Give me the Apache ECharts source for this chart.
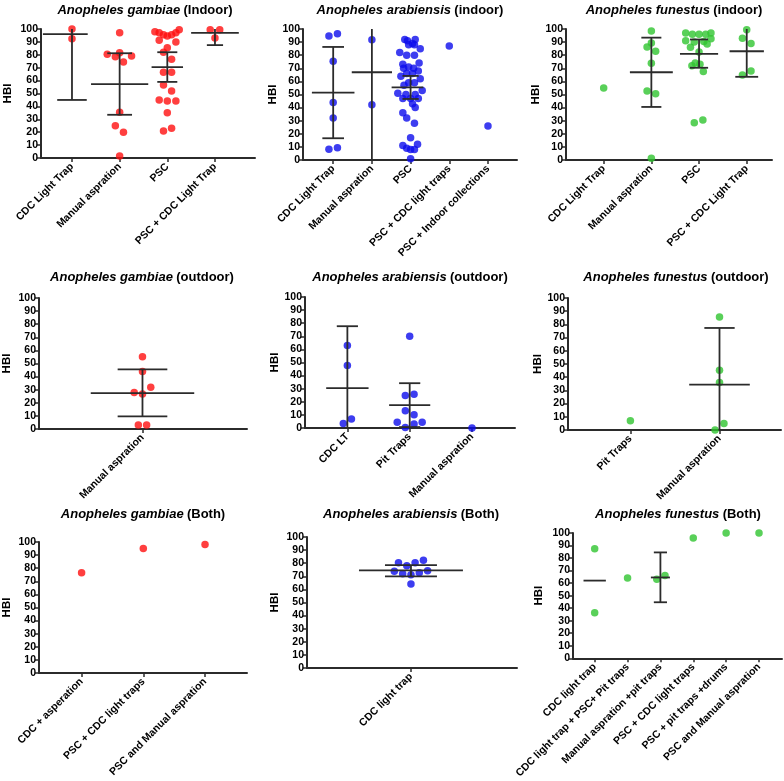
<!DOCTYPE html>
<html><head><meta charset="utf-8">
<script src="https://cdn.jsdelivr.net/npm/echarts@6/dist/echarts.min.js"></script>
<style>html,body{margin:0;padding:0;background:#fff}#c{width:784px;height:781px}</style>
</head><body><div id="c"></div>
<script>
// ---------- DATA ----------
// Points: [groupIndex, jitterOffset, HBI]; error bars: [groupIndex, mean, lower95CI, upper95CI]
const titles = [
  ['Anopheles gambiae', '(Indoor)'], ['Anopheles arabiensis', '(indoor)'], ['Anopheles funestus', '(indoor)'],
  ['Anopheles gambiae', '(outdoor)'], ['Anopheles arabiensis', '(outdoor)'], ['Anopheles funestus', '(outdoor)'],
  ['Anopheles gambiae', '(Both)'], ['Anopheles arabiensis', '(Both)'], ['Anopheles funestus', '(Both)']
];
const yTicks = [0,10,20,30,40,50,60,70,80,90,100];

const cats1 = ['CDC Light Trap','Manual aspration','PSC','PSC + CDC Light Trap'];
const pts1 = [
  [0,0,100],[0,0,92.5],
  [1,0,97],[1,-0.26,80.5],[1,0,81.5],[1,0.25,79],[1,-0.09,78.5],[1,0.08,74.5],[1,0,35.5],[1,-0.09,25],[1,0.08,20],[1,0,1.5],
  [2,-0.26,97.8],[2,-0.17,97],[2,-0.08,95.5],[2,0,94.6],[2,0.09,95.5],[2,0.18,97],[2,0.25,99.5],[2,-0.17,91.3],[2,0.18,90],
  [2,0,85.5],[2,-0.08,82],[2,0.09,76.5],[2,-0.08,66.5],[2,0.09,66.5],[2,-0.08,56.5],[2,0.09,52],[2,-0.17,45],[2,0,44.2],
  [2,0.18,44.2],[2,0,35],[2,-0.08,21],[2,0.09,23],
  [3,-0.1,99.5],[3,0.1,99.5],[3,0,93]
];
const eb1 = [[0,96,45,147],[1,57.3,33.5,81.2],[2,70.5,59,82],[3,97,87.5,107]];

const cats2 = ['CDC Light Trap','Manual aspration','PSC','PSC + CDC light traps','PSC + Indoor collections'];
const pts2 = [
  [0,-0.11,94.6],[0,0.11,96.4],[0,0,75.3],[0,0,43.9],[0,0,32.1],[0,-0.11,8.2],[0,0.11,9.4],
  [1,0,91.8],[1,0,42.1],
  [2,-0.15,92],[2,0.12,92],[2,-0.08,91],[2,0.05,89],[2,-0.05,88],[2,0.1,88],[2,0.25,85],[2,-0.28,82],[2,-0.1,80],[2,0.1,80],
  [2,0.22,74],[2,-0.2,73],[2,-0.05,71],[2,-0.18,70],[2,0.08,70],[2,0.2,68],[2,-0.1,66],[2,0.05,66],[2,-0.25,64],[2,0.25,62],
  [2,-0.05,59],[2,0.1,59],[2,-0.17,57],[2,0.3,53],[2,-0.33,51],[2,-0.12,50],[2,0.12,50],[2,-0.2,47],[2,0,47],[2,0.2,47],
  [2,0.05,43],[2,0.12,40],[2,-0.2,36],[2,-0.1,32],[2,0.1,28],[2,0,17],[2,0.18,12],[2,-0.2,11],[2,-0.1,9],[2,0,8],[2,0.1,8],[2,0,1],
  [3,0,87],
  [4,0,26]
];
const eb2 = [[0,51.5,16.6,86.3],[1,67,-250,384],[2,55.5,46.6,64.2]];

const cats3 = ['CDC Light Trap','Manual aspration','PSC','PSC + CDC Light Trap'];
const pts3 = [
  [0,0,55],
  [1,0,98.5],[1,0,89.3],[1,-0.09,86.2],[1,0.09,83],[1,0,73.8],[1,-0.09,52.6],[1,0.09,50.5],[1,0,1.3],
  [2,-0.28,97],[2,-0.14,96],[2,0,96],[2,0.14,96],[2,0.25,97],[2,-0.28,91],[2,-0.1,90],[2,0.1,90.5],[2,0.25,92.5],
  [2,0.17,88.5],[2,-0.18,86],[2,0,82.5],[2,-0.08,74],[2,0.02,73],[2,-0.15,72],[2,0.09,67.5],[2,-0.1,28.5],[2,0.08,30.5],
  [3,0,99.5],[3,-0.09,93],[3,0.09,89],[3,-0.09,64.8],[3,0.09,67.9]
];
const eb3 = [[1,67,40.5,93.4],[2,81,70.4,92],[3,83,63.5,102.5]];

const cats4 = ['Manual aspration'];
const pts4 = [[0,0,55.2],[0,0,43.8],[0,-0.08,27.8],[0,0,26.8],[0,0.08,31.9],[0,-0.04,3],[0,0.04,3]];
const eb4 = [[0,27.4,9.6,45.5]];

const cats5 = ['CDC LT','Pit Traps','Manual aspration'];
const pts5 = [
  [0,0,63],[0,0,47.8],[0,-0.065,3.5],[0,0.065,6.8],
  [1,0,70],[1,-0.07,24.8],[1,0.07,25.8],[1,-0.07,13.2],[1,0.07,10.1],[1,-0.2,4.3],[1,0.2,4.3],[1,0.07,3],[1,-0.07,0.3],
  [2,0,0]
];
const eb5 = [[0,30.5,-17,77.7],[1,17.4,0.7,34.2]];

const cats6 = ['Pit Traps','Manual aspration'];
const pts6 = [[0,0,7],[1,0,85.6],[1,0,45.2],[1,0,35.9],[1,0.05,5],[1,-0.05,0]];
const eb6 = [[1,34.3,-8.7,77.3]];

const cats7 = ['CDC + asperation','PSC + CDC light traps','PSC and Manual aspration'];
const pts7 = [[0,0,76.5],[1,0,95],[2,0,98]];
const eb7 = [];

const cats8 = ['CDC light trap'];
const pts8 = [[0,-0.12,80.3],[0,-0.04,78],[0,0.04,80.3],[0,0.12,82.3],[0,-0.16,73.9],[0,-0.08,71.9],[0,0,71.1],[0,0.08,72.7],[0,0.16,74.2],[0,0,64.1]];
const eb8 = [[0,74.5,70,78.5]];

const cats9 = ['CDC light trap','CDC light trap + PSC+ Pit traps','Manual aspration +pit traps','PSC + CDC light traps','PSC + pit traps +drums','PSC and Manual aspration'];
const pts9 = [[0,0,87.5],[0,0,36.3],[1,0,64],[2,-0.11,63],[2,0.14,66],[3,0,96],[4,0,100],[5,0,100]];
const eb9 = [[0,62,62,62],[2,64.5,44.7,84.5]];

// ---------- LAYOUT / STYLE ----------
const RED = '#ff0f0f', BLUE = '#0c0cec', GREEN = '#2fc42f';
const layout = [
  {left:41, top:29, width:214, height:129, xmin:-0.65, xmax:3.84, tx:145, ty:10, color:RED, cats:cats1, pts:pts1, eb:eb1, mw:[0.47,0.6,0.33,0.5], cw:[0.31,0.26,0.21,0.17], mc:[-0.14,0,0,0], nameGap:27},
  {left:303, top:29, width:214, height:131, xmin:-0.78, xmax:4.75, tx:410, ty:10, color:BLUE, cats:cats2, pts:pts2, eb:eb2, mw:[0.55,0.52,0.41], cw:[0.28,0.2,0.21], mc:[0,0,-0.08], nameGap:23},
  {left:566, top:29, width:206, height:131, xmin:-0.79, xmax:3.53, tx:674, ty:10, color:GREEN, cats:cats3, pts:pts3, eb:eb3, mw:[0.45,0.4,0.36], cw:[0.21,0.19,0.24], mc:[0,0,0], nameGap:21},
  {left:39, top:298, width:208, height:131, xmin:-1, xmax:1.01, tx:142, ty:277, color:RED, cats:cats4, pts:pts4, eb:eb4, mw:[0.5], cw:[0.24], mc:[0], nameGap:26},
  {left:305, top:297, width:210, height:131, xmin:-0.68, xmax:2.69, tx:410, ty:277, color:BLUE, cats:cats5, pts:pts5, eb:eb5, mw:[0.34,0.33], cw:[0.17,0.17], mc:[0,0], nameGap:24},
  {left:568, top:298, width:213, height:132, xmin:-0.70, xmax:1.69, tx:676, ty:277, color:GREEN, cats:cats6, pts:pts6, eb:eb6, mw:[0.34], cw:[0.17], mc:[0], nameGap:23},
  {left:37, top:542, width:210, height:131, xmin:-0.69, xmax:2.68, tx:143, ty:514, color:RED, cats:cats7, pts:pts7, eb:eb7, mw:[], cw:[], mc:[], nameGap:26},
  {left:307, top:537, width:210, height:131, xmin:-1, xmax:1.02, tx:411, ty:514, color:BLUE, cats:cats8, pts:pts8, eb:eb8, mw:[0.5], cw:[0.25], mc:[0], nameGap:26},
  {left:573, top:533, width:209, height:131, xmin:-0.66, xmax:5.7, tx:678, ty:514, color:GREEN, cats:cats9, pts:pts9, eb:eb9, mw:[0.34,0.29], cw:[0,0.2], mc:[0,0], nameGap:28}
];
const FONT = '"Liberation Sans", Arial, sans-serif';
const AX = '#2b2b2b';

function ebRender(mw, cw, mc) {
  return function (params, api) {
    const g = api.value(0), m = api.value(1), lo = api.value(2), hi = api.value(3);
    const i = params.dataIndex;
    const halfM = mw[i], halfC = cw[i], shift = mc[i] || 0;
    const st = {stroke: AX, lineWidth: 1.8};
    const seg = (x1, y1, x2, y2) => {
      const a = api.coord([x1, y1]), b = api.coord([x2, y2]);
      return {type: 'line', shape: {x1: a[0], y1: a[1], x2: b[0], y2: b[1]}, style: st};
    };
    const ch = [seg(g + shift - halfM, m, g + shift + halfM, m)];
    const l = Math.max(lo, 0), h = Math.min(hi, 100);
    if (h > l) ch.push(seg(g, l, g, h));
    if (halfC > 0 && lo >= 0) ch.push(seg(g - halfC, lo, g + halfC, lo));
    if (halfC > 0 && hi <= 100) ch.push(seg(g - halfC, hi, g + halfC, hi));
    return {type: 'group', children: ch};
  };
}

const option = {animation: false, backgroundColor: '#fff', grid: [], xAxis: [], yAxis: [], series: [], graphic: []};
layout.forEach((p, k) => {
  option.grid.push({left: p.left, top: p.top, width: p.width, height: p.height, containLabel: false});
  const idx = p.cats.map((_, i) => i);
  option.xAxis.push({
    type: 'value', gridIndex: k, min: p.xmin, max: p.xmax,
    splitLine: {show: false},
    axisLine: {show: true, onZero: false, lineStyle: {color: AX, width: 2}},
    axisTick: {show: true, customValues: idx, length: 4, lineStyle: {color: AX, width: 1.5}},
    axisLabel: {show: true, customValues: idx, rotate: 45, margin: 7, fontSize: 10.5, fontWeight: 'bold', color: '#000', fontFamily: FONT,
      formatter: v => p.cats[Math.round(v)]}
  });
  option.yAxis.push({
    type: 'value', gridIndex: k, min: 0, max: 100, interval: 10,
    name: 'HBI', nameLocation: 'middle', nameGap: p.nameGap,
    nameTextStyle: {fontSize: 11.5, fontWeight: 'bold', color: '#000', fontFamily: FONT},
    splitLine: {show: false},
    axisLine: {show: true, onZero: false, lineStyle: {color: AX, width: 2}},
    axisTick: {show: true, length: 4, lineStyle: {color: AX, width: 1.5}},
    axisLabel: {fontSize: 10.5, fontWeight: 'bold', color: '#000', margin: 3, fontFamily: FONT, formatter: v => String(v)}
  });
  option.series.push({
    type: 'scatter', xAxisIndex: k, yAxisIndex: k, clip: false,
    symbol: 'circle', symbolSize: 7.5, itemStyle: {color: p.color},
    data: p.pts.map(d => [d[0] + d[1], d[2]]), z: 3
  });
  if (p.eb.length) {
    option.series.push({
      type: 'custom', xAxisIndex: k, yAxisIndex: k, renderItem: ebRender(p.mw, p.cw, p.mc),
      encode: {x: 0, y: [1, 2, 3]}, data: p.eb, z: 4
    });
  }
  option.graphic.push({
    type: 'text', x: p.tx, y: p.ty,
    style: {
      text: '{i|' + titles[k][0] + '} {b|' + titles[k][1] + '}',
      align: 'center', verticalAlign: 'middle',
      rich: {
        i: {fontStyle: 'italic', fontWeight: 'bold', fontSize: 13, fontFamily: FONT, fill: '#000', color: '#000'},
        b: {fontWeight: 'bold', fontSize: 13, fontFamily: FONT, fill: '#000', color: '#000'}
      }
    }
  });
});
const chart = echarts.init(document.getElementById('c'), null, {renderer: 'canvas'});
chart.setOption(option);
</script></body></html>
